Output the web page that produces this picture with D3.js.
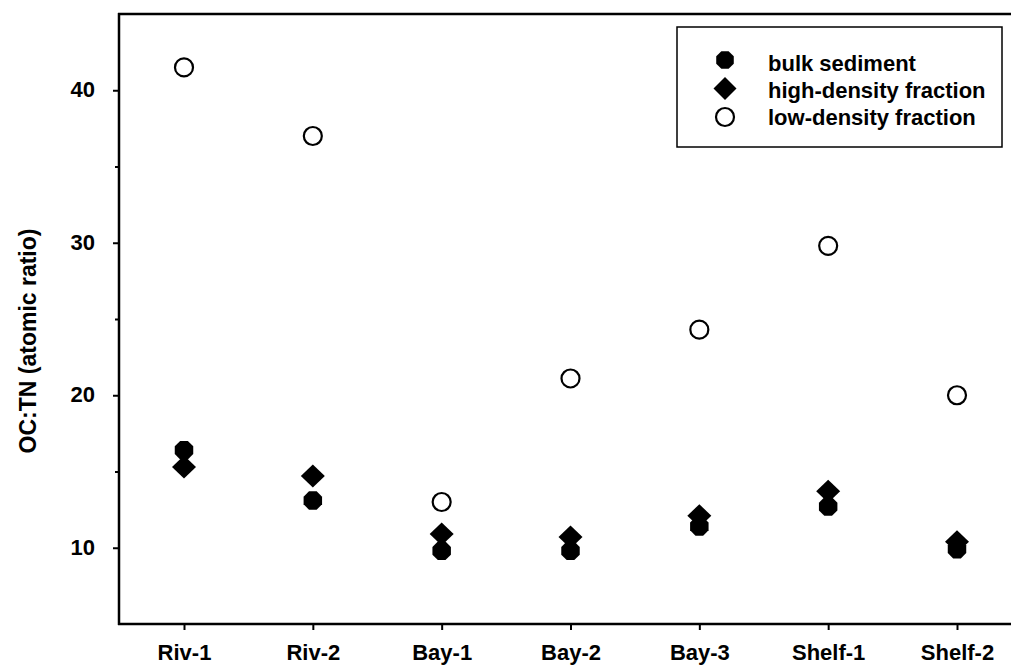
<!DOCTYPE html>
<html>
<head>
<meta charset="utf-8">
<script src="https://cdn.jsdelivr.net/npm/d3@7"></script>
<style>
  body { margin: 0; background: #fff; }
  text { font-family: 'Liberation Sans', Arial, sans-serif; font-weight: bold; fill: #000; }
</style>
</head>
<body>
<svg id="chart" width="1011" height="668"></svg>
<script>
// sampling sites
const sites = ['Riv-1', 'Riv-2', 'Bay-1', 'Bay-2', 'Bay-3', 'Shelf-1', 'Shelf-2']

// OC:TN atomic ratios
const bulkSediment = [16.4, 13.1, 9.8, 9.8, 11.4, 12.7, 9.9]
const highDensity = [15.3, 14.7, 10.9, 10.7, 12.1, 13.7, 10.4]
const lowDensity = [41.5, 37.0, 13.0, 21.1, 24.3, 29.8, 20.0]

const yMajorTicks = [10, 20, 30, 40]
const yMinorTicks = [15, 25, 35]

const legendLabels = ['bulk sediment', 'high-density fraction', 'low-density fraction']

const svg = d3.select('#chart')

const plotLeft = 119, plotRight = 1011, plotTop = 14, plotBottom = 624
const fontFamily = "'Liberation Sans', Arial, sans-serif"

const x = d3.scalePoint()
    .domain(sites)
    .range([184, 957])

const y = d3.scaleLinear()
    .domain([5, 45])
    .range([plotBottom, plotTop])

// marker shapes
function hexPath(r) {
    const pts = d3.range(8).map(i => {
        const a = Math.PI / 8 + i * Math.PI / 4
        return [r * Math.cos(a), r * Math.sin(a)]
    })
    return 'M' + pts.map(p => p.join(',')).join('L') + 'Z'
}
function diamondPath(w, h) {
    return `M0,${-h}L${w},0L0,${h}L${-w},0Z`
}

// y axis, major and minor ticks
const yAxis = svg.append('g')
    .attr('transform', `translate(${plotLeft},0)`)
    .call(d3.axisLeft(y).tickValues(yMajorTicks).tickSize(6).tickSizeOuter(0).tickPadding(18))
yAxis.select('.domain').remove()
yAxis.selectAll('line').attr('stroke', '#000').attr('stroke-width', 2)
yAxis.selectAll('text')
    .attr('font-size', 22)
    .attr('font-family', fontFamily)
    .attr('font-weight', 'bold')
    .attr('dy', '0.3em')

const yMinor = svg.append('g')
    .attr('transform', `translate(${plotLeft},0)`)
    .call(d3.axisLeft(y).tickValues(yMinorTicks).tickSize(4).tickSizeOuter(0).tickFormat(''))
yMinor.select('.domain').remove()
yMinor.selectAll('line').attr('stroke', '#000').attr('stroke-width', 2)

// x axis
const xAxis = svg.append('g')
    .attr('transform', `translate(0,${plotBottom})`)
    .call(d3.axisBottom(x).tickSize(6).tickSizeOuter(0).tickPadding(14))
xAxis.select('.domain').remove()
xAxis.selectAll('line').attr('stroke', '#000').attr('stroke-width', 2)
xAxis.selectAll('text')
    .attr('font-size', 22)
    .attr('font-family', fontFamily)
    .attr('font-weight', 'bold')

// frame lines
svg.append('line')
    .attr('x1', plotLeft).attr('x2', plotLeft).attr('y1', plotTop - 1).attr('y2', plotBottom + 1)
    .attr('stroke', '#000').attr('stroke-width', 2.5)
svg.append('line')
    .attr('x1', plotLeft - 1).attr('x2', plotRight).attr('y1', plotBottom).attr('y2', plotBottom)
    .attr('stroke', '#000').attr('stroke-width', 2.5)
svg.append('line')
    .attr('x1', plotLeft - 1).attr('x2', plotRight).attr('y1', plotTop).attr('y2', plotTop)
    .attr('stroke', '#000').attr('stroke-width', 2.5)

// y label
svg.append('text')
    .attr('transform', 'translate(36,341) rotate(-90)')
    .attr('text-anchor', 'middle')
    .attr('font-size', 23)
    .text('OC:TN (atomic ratio)')

// data markers
const plot = svg.append('g')

plot.selectAll('.bulk')
    .data(bulkSediment)
    .enter()
    .append('path')
    .attr('class', 'bulk')
    .attr('d', hexPath(10))
    .attr('transform', (d, i) => `translate(${x(sites[i])},${y(d)})`)
    .attr('fill', '#000')

plot.selectAll('.high')
    .data(highDensity)
    .enter()
    .append('path')
    .attr('class', 'high')
    .attr('d', diamondPath(12, 11.5))
    .attr('transform', (d, i) => `translate(${x(sites[i])},${y(d)})`)
    .attr('fill', '#000')

plot.selectAll('.low')
    .data(lowDensity)
    .enter()
    .append('circle')
    .attr('class', 'low')
    .attr('cx', (d, i) => x(sites[i]))
    .attr('cy', d => y(d))
    .attr('r', 9)
    .attr('fill', 'none')
    .attr('stroke', '#000')
    .attr('stroke-width', 2.2)

// legend
const legend = svg.append('g')
legend.append('rect')
    .attr('x', 677).attr('y', 27)
    .attr('width', 325).attr('height', 120)
    .attr('fill', '#fff')
    .attr('stroke', '#000')
    .attr('stroke-width', 1.5)

const rows = legend.selectAll('.row')
    .data(legendLabels)
    .enter()
    .append('g')
    .attr('class', 'row')
    .attr('transform', (d, i) => `translate(725,${60 + i * 28.5})`)

rows.append('path')
    .attr('d', (d, i) => i === 0 ? hexPath(9.5) : i === 1 ? diamondPath(11.5, 11.5) : 'M9,0A9,9 0 1,1 -9,0A9,9 0 1,1 9,0Z')
    .attr('fill', (d, i) => i === 2 ? 'none' : '#000')
    .attr('stroke', (d, i) => i === 2 ? '#000' : 'none')
    .attr('stroke-width', 2.2)

rows.append('text')
    .attr('x', 43)
    .attr('y', (d, i) => 3 - i * 1.5)
    .attr('dy', '0.35em')
    .attr('font-size', 22)
    .text(d => d)
</script>
</body>
</html>
